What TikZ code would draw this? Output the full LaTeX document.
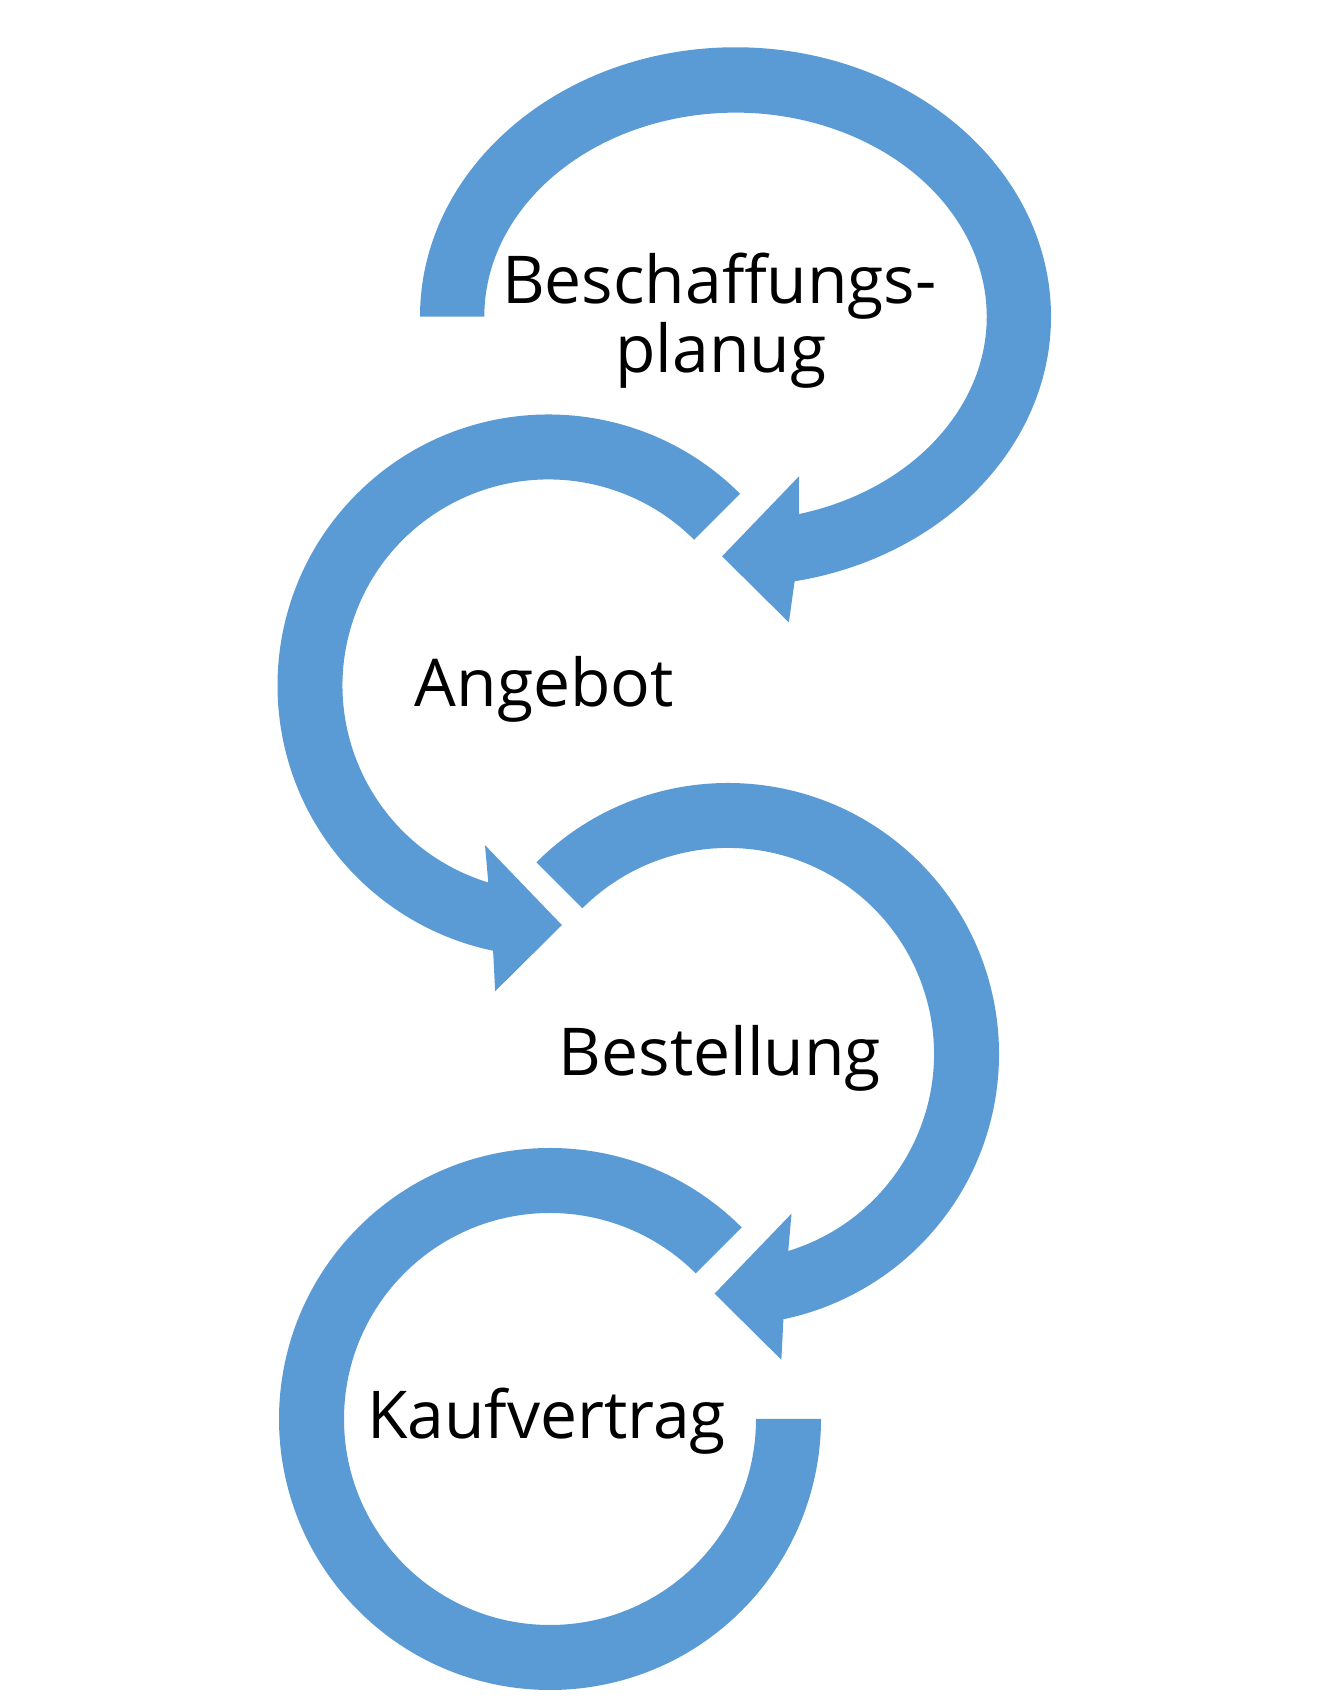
\documentclass[tikz,border=0pt]{standalone}
\usepackage{fontspec}
\setmainfont{Open Sans}
\usepackage{tikz}
\usetikzlibrary{calc}
\definecolor{arrowblue}{HTML}{5B9BD5}
\tikzstyle{band} = [fill=arrowblue]
\tikzstyle{steptext} = [anchor=base, inner sep=0pt, font=\fontsize{33}{40}\selectfont]

\begin{document}
\begin{tikzpicture}[x=0.5pt, y=0.5pt]
    \useasboundingbox (0,0) rectangle (1320,1700);

    % Centres of the four arrows
    \coordinate (c1) at (735.5,1383.3);
    \coordinate (c2) at (548.5,1014.5);
    \coordinate (c3) at (728,646);
    \coordinate (c4) at (550,281);

    % Arrow 1 (ellipse, clockwise)
    \fill[band] ($(c1)+(180:315.5 and 269.4)$) arc[start angle=180, end angle=-79.2, x radius=315.5, y radius=269.4]
        -- ($(c1)+(-80.1:310.4)$) -- ($(c1)+(-93.2:240)$) -- ($(c1)+(-68.3:171.8)$)
        -- ($(c1)+(-75.4:251.2 and 204)$) arc[start angle=-75.4, end angle=180, x radius=251.2, y radius=204] -- cycle;

    % Arrow 2 (counter-clockwise)
    \fill[band] ($(c2)+(45:271)$) arc[start angle=45, end angle=258.2, radius=271]
        -- ($(c2)+(260.1:310.4)$) -- ($(c2)+(273.2:240)$) -- ($(c2)+(248.3:171.8)$)
        -- ($(c2)+(253:206)$) arc[start angle=253, end angle=45, radius=206] -- cycle;

    % Arrow 3 (clockwise)
    \fill[band] ($(c3)+(135:271)$) arc[start angle=135, end angle=-78.2, radius=271]
        -- ($(c3)+(-80.1:310.4)$) -- ($(c3)+(-93.2:240)$) -- ($(c3)+(-68.3:171.8)$)
        -- ($(c3)+(-73:206)$) arc[start angle=-73, end angle=135, radius=206] -- cycle;

    % Arrow 4 (no head)
    \fill[band] ($(c4)+(45:271)$) arc[start angle=45, end angle=360, radius=271]
        -- ($(c4)+(0:206)$) arc[start angle=360, end angle=45, radius=206] -- cycle;

    % Labels
    \node (plan1) [steptext] at (719.4,1396) {Beschaffungs-};
    \node (plan2) [steptext] at (721,1327) {planug};
    \node (offer) [steptext] at (544.4,993) {Angebot};
    \node (order) [steptext] at (720,624.6) {Bestellung};
    \node (contract) [steptext] at (546.6,261) {Kaufvertrag};
\end{tikzpicture}
\end{document}
